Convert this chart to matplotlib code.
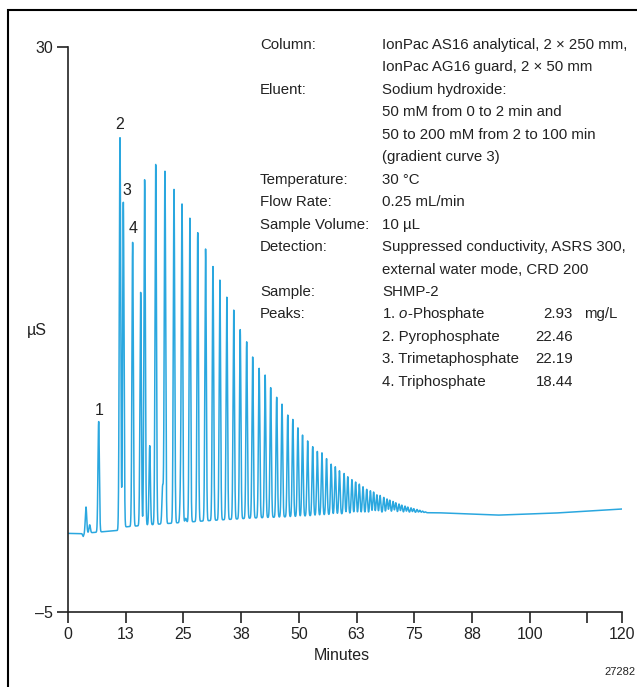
import numpy as np
import matplotlib
matplotlib.use("Agg")
import matplotlib.pyplot as plt
from matplotlib.patches import Rectangle

plt.rcParams['font.family'] = ['Liberation Sans', 'DejaVu Sans']
plt.rcParams['mathtext.fontset'] = 'custom'
plt.rcParams['mathtext.rm'] = 'Liberation Sans'
plt.rcParams['mathtext.it'] = 'Liberation Sans:italic'

# peak apex positions (min) and apex signal (µS)
peak_t = [3.9, 4.7, 6.64, 11.26, 11.98, 14.0, 15.74, 16.6, 17.7, 19.0, 20.5, 21.0,
          22.96, 24.4, 24.7, 25.5, 26.4, 28.1, 29.8, 31.4, 32.9, 34.4, 35.9, 37.3,
          38.7, 40.0, 41.4, 42.7, 43.9, 45.2, 46.35, 47.6, 48.7, 49.8, 50.8, 51.9,
          53.0, 54.0, 55.0, 56.0, 57.0, 57.9, 58.8, 59.8, 60.6, 61.5, 62.3, 63.1,
          63.9, 64.7, 65.5, 66.2, 66.9, 67.6, 68.4, 69.1, 69.7, 70.4, 71.0, 71.7,
          72.3, 73.0, 73.6, 74.3, 74.9, 75.6, 76.2, 76.8, 77.4]
peak_v = [1.5, 0.4, 6.8, 24.4, 20.4, 17.9, 14.8, 21.8, 5.3, 22.75, 2.8, 22.3,
          21.2, 2.55, 20.0, 0.8, 19.4, 18.5, 17.5, 16.4, 15.56, 14.5, 13.7, 12.5,
          11.74, 10.8, 10.1, 9.68, 8.9, 8.3, 7.88, 7.2, 6.93, 6.41, 5.96, 5.6,
          5.24, 4.95, 4.86, 4.5, 4.16, 4.0, 3.75, 3.58, 3.38, 3.2, 3.05, 2.92,
          2.76, 2.6, 2.51, 2.43, 2.26, 2.22, 2.1, 2.0, 1.93, 1.85, 1.77, 1.69,
          1.62, 1.56, 1.5, 1.45, 1.4, 1.35, 1.3, 1.25, 1.2]

# baseline drift knots
base_t = [0, 3.0, 3.3, 3.6, 10.8, 11.5, 20, 30, 40, 50, 60, 70, 80, 93, 105, 120]
base_v = [-0.13, -0.15, -0.32, -0.12, 0.05, 0.25, 0.45, 0.65, 0.82, 0.92, 1.08, 1.15, 1.15, 1.0, 1.12, 1.38]

peak_labels = ["1", "2", "3", "4"]
label_x = [6.71, 11.26, 12.78, 14.08]
label_y = [7.51, 25.23, 21.14, 18.73]

xticks = [0, 12.5, 25, 37.5, 50, 62.5, 75, 87.5, 100, 112.5, 120]
xtick_labels = ["0", "13", "25", "38", "50", "63", "75", "88", "100", "", "120"]
yticks = [-5, 30]
ytick_labels = ["\u20135", "30"]

param_labels = ["Column:", "", "Eluent:", "", "", "", "Temperature:", "Flow Rate:",
                "Sample Volume:", "Detection:", "", "Sample:", "Peaks:"]
param_values = ["IonPac AS16 analytical, 2 \u00d7 250 mm,", "IonPac AG16 guard, 2 \u00d7 50 mm",
                "Sodium hydroxide:", "50 mM from 0 to 2 min and",
                "50 to 200 mM from 2 to 100 min", "(gradient curve 3)", "30 \u00b0C",
                "0.25 mL/min", "10 \u00b5L", "Suppressed conductivity, ASRS 300,",
                "external water mode, CRD 200", "SHMP-2"]
analytes = ["1. $\\mathit{o}$-Phosphate", "2. Pyrophosphate", "3. Trimetaphosphate", "4. Triphosphate"]
amounts = ["2.93", "22.46", "22.19", "18.44"]

# build the trace
t = np.linspace(0, 120, 8000)
base = np.interp(t, base_t, base_v)
signal = base.copy()
sigma = 0.15
for pt, pv in zip(peak_t, peak_v):
    h = pv - np.interp(pt, base_t, base_v)
    signal += h * np.exp(-0.5 * ((t - pt) / sigma) ** 2)

W, H = 637, 687
fs = 10.8
ink = "#222222"
fig = plt.figure(figsize=(W / 100, H / 100), dpi=100)
ax = fig.add_axes([68 / W, 75 / H, 554 / W, 565 / H])

ax.plot(t, signal, color="#2aa7df", lw=1.1)

ax.set_xlim(0, 120)
ax.set_ylim(-5, 30)
for s in ["top", "right"]:
    ax.spines[s].set_visible(False)
for s in ["left", "bottom"]:
    ax.spines[s].set_linewidth(1.2)
    ax.spines[s].set_color(ink)
ax.set_xticks(xticks)
ax.set_xticklabels(xtick_labels)
ax.set_yticks(yticks)
ax.set_yticklabels(ytick_labels)
ax.tick_params(direction="out", length=8, width=1.2, color=ink,
               labelsize=11.5, labelcolor=ink, pad=3)

for lab, lx, ly in zip(peak_labels, label_x, label_y):
    ax.text(lx, ly, lab, ha="center", va="center", fontsize=11.5, color=ink)

fig.text(37 / W, 1 - 330 / H, "\u00b5S", ha="center", va="center", fontsize=11.5, color=ink)
fig.text(342 / W, 1 - 655 / H, "Minutes", ha="center", va="center", fontsize=11.5, color=ink)
fig.text(636 / W, 1 - 672 / H, "27282", ha="right", va="center", fontsize=8, color=ink)

row0, dy = 45, 22.45
for i, lab in enumerate(param_labels):
    fig.text(260 / W, 1 - (row0 + i * dy) / H, lab, ha="left", va="center", fontsize=fs, color=ink)
for i, val in enumerate(param_values):
    fig.text(382 / W, 1 - (row0 + i * dy) / H, val, ha="left", va="center", fontsize=fs, color=ink)
for i, (name, amt) in enumerate(zip(analytes, amounts)):
    y = 1 - (row0 + (12 + i) * dy) / H
    fig.text(382 / W, y, name, ha="left", va="center", fontsize=fs, color=ink)
    fig.text(573 / W, y, amt, ha="right", va="center", fontsize=fs, color=ink)
fig.text(584 / W, 1 - (row0 + 12 * dy) / H, "mg/L", ha="left", va="center", fontsize=fs, color=ink)

fig.add_artist(Rectangle((8 / W, -0.1), 1.2, 1 - 10 / H + 0.1, transform=fig.transFigure,
                         fill=False, lw=1.5, ec="black"))

fig.savefig("out.png", dpi=100)
